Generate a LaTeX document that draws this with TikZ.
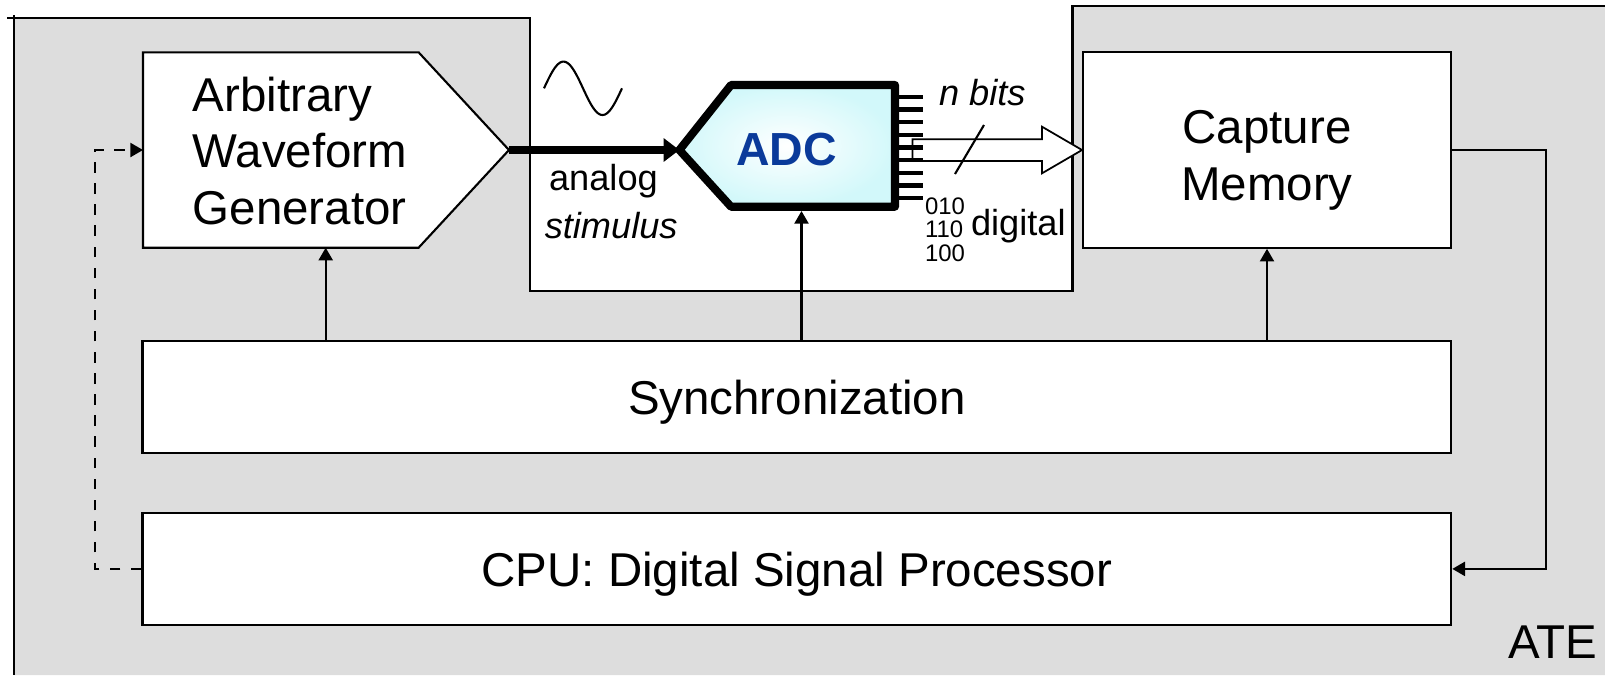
\documentclass[tikz,border=0pt]{standalone}
\usepackage{fontspec}
\setmainfont{Liberation Sans}
\usetikzlibrary{arrows.meta}
\definecolor{ategray}{HTML}{DDDDDD}
\definecolor{adcblue}{HTML}{0A3A9A}
\definecolor{adcedge}{HTML}{D2F8FA}

\begin{document}
\begin{tikzpicture}[x=0.01cm, y=-0.01cm, line width=0.6pt,
    every node/.style={font=\fontsize{13.5}{16.2}\selectfont, inner sep=0pt},
    block/.style={rectangle, draw, fill=white, line width=0.6pt},
    wide/.style={block, minimum width=13.08cm, minimum height=1.126cm, text depth=0pt},
    small/.style={font=\fontsize{10.3}{12}\selectfont},
    sig/.style={-{Triangle[length=3.6pt,width=4pt]}},
    pin/.style={line width=1.2pt},
]
\useasboundingbox (0,0) rectangle (1605,675);

% ATE frame
\fill[ategray] (14.3,18.3) -- (530,18.3) -- (530,291) -- (1072.5,291) -- (1072.5,6)
    -- (1605,6) -- (1605,675) -- (14.3,675) -- cycle;
\draw (7,18.3) -- (530,18.3) -- (530,291) -- (1072.5,291) -- (1072.5,6) -- (1605,6);
\draw (14.3,15) -- (14.3,675);
\node[anchor=base west] (ate) at (1507.7,658) {ATE};

% Arbitrary waveform generator
\draw[fill=white] (143,52.3) -- (418.6,52.3) -- (509,150) coordinate (awgout)
    -- (418.6,247.7) -- (143,247.7) -- cycle;
\coordinate (awgin) at (143,150);
\coordinate (awgbot) at (325.7,247.7);
\node[align=left] (awg) at (300,151) {Arbitrary\\Waveform\\Generator};

% Capture memory, synchronization, CPU
\node[block, minimum width=3.676cm, minimum height=1.954cm] (cap) at (1267,150) {};
\node[align=center] (captext) at (1267,160) {Capture\\Memory};
\node[wide] (sync) at (796.9,397) {Synchronization};
\node[wide] (cpu) at (796.9,568.9) {CPU: Digital Signal Processor};

% ADC
\shade[inner color=white, outer color=adcedge] (731,85) -- (895,85) -- (895,206.7)
    -- (731,206.7) -- (679.4,150) -- cycle;
\draw[fill=white, line width=0.5pt] (912.5,139.3) -- (1042,139.3) -- (1042,126.7) -- (cap.west)
    -- (1042,173.3) -- (1042,161) -- (912.5,161) -- cycle;
\draw (984,125) -- (955,174);
\foreach \i in {0,...,8}
    \draw[pin] (895,96.7+12.7*\i) -- ++(28,0);
\draw[line width=2.3pt, line join=round] (731,85) -- (895,85) -- (895,206.7)
    -- (731,206.7) -- (679.4,150) coordinate (adcin) -- cycle;
\coordinate (adcbot) at (801.5,211);
\node[font=\fontsize{13.2}{16}\selectfont\bfseries, text=adcblue] (adc) at (786.7,150) {ADC};

% analog stimulus
\draw[line width=2.3pt, -{Triangle[length=4.5pt,width=6.5pt]}] (awgout) -- (adcin);
\draw plot[domain=0:360, samples=60, smooth] ({544+0.21667*\x}, {88.3-26.7*sin(\x)});
\node[small, anchor=base west] (analog) at (548,190) {analog};
\node[small, anchor=base west] (stim) at (543.7,238) {\itshape stimulus};
\node[small, anchor=base west] (nbits) at (938,105) {\itshape n bits};
\node[small, anchor=base west] (dig) at (970,235) {digital};
\node[font=\fontsize{6.8}{6.6}\selectfont, align=left, anchor=north west] (codes)
    at (924,197) {010\\110\\100};

% control and data paths
\draw[sig] (sync.north -| awgbot) -- (awgbot);
\draw[sig] (sync.north -| adcbot) -- (adcbot);
\draw[sig] (sync.north -| cap.south) -- (cap.south);
\coordinate (ret) at (1546.3,568.9);
\coordinate (fb) at (94.6,568.9);
\draw[sig] (cap.east) -| (ret) -- (cpu.east);
\draw[sig, dashed] (cpu.west) -- (fb) |- (awgin);

\end{tikzpicture}
\end{document}
